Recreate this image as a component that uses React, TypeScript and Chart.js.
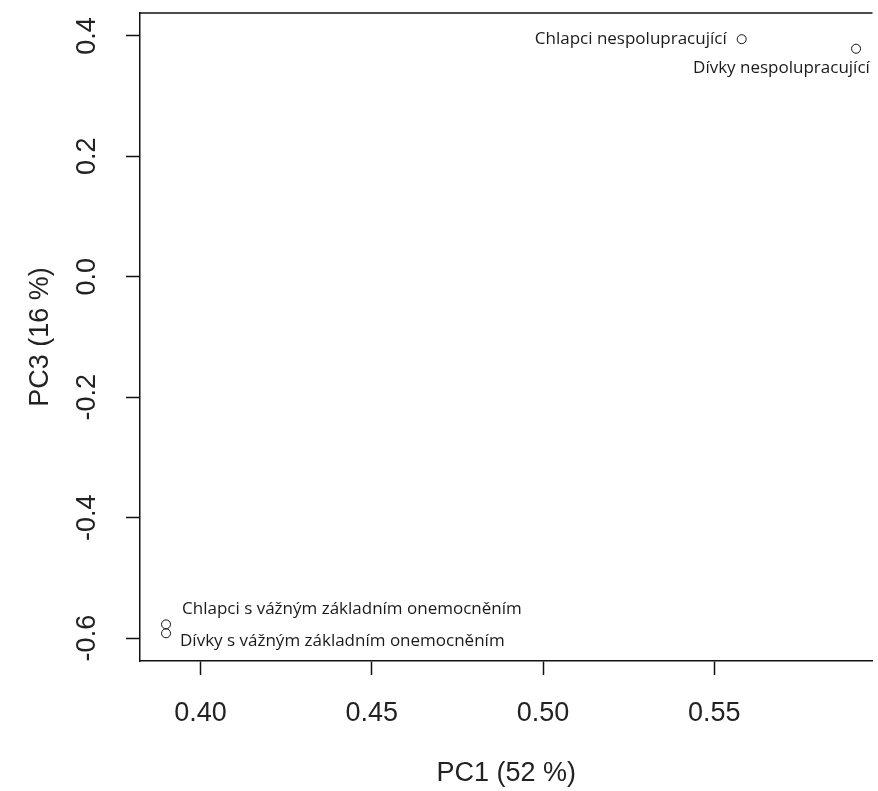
import React, { useEffect, useRef } from "react";
import { Chart, registerables } from "chart.js";

Chart.register(...registerables);

const pointNames = [
  "Chlapci nespolupracující",
  "Dívky nespolupracující",
  "Chlapci s vážným základním onemocněním",
  "Dívky s vážným základním onemocněním",
];
const pc1 = [0.558, 0.5914, 0.3899, 0.3899];
const pc3 = [0.3945, 0.3787, -0.5772, -0.592];
const xTicks = [0.4, 0.45, 0.5, 0.55];
const xTickLabels = ["0.40", "0.45", "0.50", "0.55"];
const yTicks = [-0.6, -0.4, -0.2, 0.0, 0.2, 0.4];
const yTickLabels = ["-0.6", "-0.4", "-0.2", "0.0", "0.2", "0.4"];
const xTitle = "PC1 (52 %)";
const yTitle = "PC3 (16 %)";

// label placement (style): alignment and pixel offset from the point
const labelPlacement = [
  { align: "right", dx: -15, dy: 0 },
  { align: "left", dx: -163, dy: 19 },
  { align: "left", dx: 16, dy: -15 },
  { align: "left", dx: 14, dy: 8 },
];

const AXIS_FONT = "'Liberation Sans', Arial, sans-serif";
const LABEL_FONT = "'Open Sans', 'Noto Sans', sans-serif";

const W = 878;
const H = 791;

const zeroPadding = (scale: any) => {
  scale.paddingTop = 0;
  scale.paddingBottom = 0;
  scale.paddingLeft = 0;
  scale.paddingRight = 0;
};

export default function App() {
  const ref = useRef<HTMLCanvasElement | null>(null);

  useEffect(() => {
    document.documentElement.style.overflow = "hidden";
    document.body.style.overflow = "hidden";
    const canvas = ref.current;
    if (!canvas) return;

    const topBorder = {
      id: "topBorder",
      afterDraw(chart: any) {
        const { ctx, chartArea } = chart;
        ctx.save();
        ctx.strokeStyle = "#111";
        ctx.lineWidth = 1.5;
        ctx.beginPath();
        ctx.moveTo(chartArea.left, chartArea.top);
        ctx.lineTo(chartArea.right, chartArea.top);
        ctx.stroke();
        ctx.restore();
      },
    };

    const pointLabels = {
      id: "pointLabels",
      afterDatasetsDraw(chart: any) {
        const { ctx } = chart;
        const meta = chart.getDatasetMeta(0);
        ctx.save();
        ctx.font = `17px ${LABEL_FONT}`;
        ctx.fillStyle = "#1a1a1a";
        ctx.textBaseline = "middle";
        meta.data.forEach((el: any, i: number) => {
          const p = labelPlacement[i];
          ctx.textAlign = p.align;
          ctx.fillText(pointNames[i], el.x + p.dx, el.y + p.dy);
        });
        ctx.restore();
      },
    };

    const chart = new Chart(canvas, {
      type: "scatter",
      data: {
        datasets: [
          {
            data: pc1.map((x, i) => ({ x, y: pc3[i] })),
            pointStyle: "circle",
            pointRadius: 4.5,
            pointHoverRadius: 4.5,
            borderColor: "#111",
            borderWidth: 1,
            backgroundColor: "rgba(0,0,0,0)",
          },
        ],
      },
      options: {
        animation: false,
        responsive: false,
        devicePixelRatio: 1,
        layout: { padding: { top: 13, right: 0, left: 0, bottom: 0 } },
        plugins: { legend: { display: false }, tooltip: { enabled: false } },
        scales: {
          x: {
            type: "linear",
            min: 0.3823,
            max: 0.5962,
            afterBuildTicks: (scale: any) => {
              scale.ticks = xTicks.map((v) => ({ value: v }));
            },
            afterFit: (scale: any) => {
              scale.height = 130;
              zeroPadding(scale);
            },
            ticks: {
              callback: (_v: any, i: number) => xTickLabels[i],
              font: { family: AXIS_FONT, size: 27 },
              color: "#222",
              padding: 22,
              maxRotation: 0,
              minRotation: 0,
            },
            grid: {
              display: true,
              drawOnChartArea: false,
              drawTicks: true,
              tickLength: 14,
              tickColor: "#111",
              tickWidth: 1.5,
            },
            border: { display: true, color: "#111", width: 1.5 },
            title: {
              display: true,
              text: xTitle,
              font: { family: AXIS_FONT, size: 27 },
              color: "#222",
              padding: { top: 0, bottom: 1 },
            },
          },
          y: {
            type: "linear",
            min: -0.638,
            max: 0.438,
            afterBuildTicks: (scale: any) => {
              scale.ticks = yTicks.map((v) => ({ value: v }));
            },
            afterFit: (scale: any) => {
              scale.width = 140;
              zeroPadding(scale);
            },
            ticks: {
              callback: (_v: any, i: number) => yTickLabels[i],
              font: { family: AXIS_FONT, size: 27 },
              color: "#222",
              padding: 15,
              minRotation: 90,
              maxRotation: 90,
              crossAlign: "center",
            },
            grid: {
              display: true,
              drawOnChartArea: false,
              drawTicks: true,
              tickLength: 14,
              tickColor: "#111",
              tickWidth: 1.5,
            },
            border: { display: true, color: "#111", width: 1.5 },
            title: {
              display: true,
              text: yTitle,
              font: { family: AXIS_FONT, size: 27 },
              color: "#222",
              padding: { top: 24, bottom: 0 },
            },
          },
        },
      },
      plugins: [topBorder, pointLabels],
    } as any);

    return () => chart.destroy();
  }, []);

  return (
    <canvas
      ref={ref}
      width={W}
      height={H}
      style={{
        display: "block",
        position: "absolute",
        left: 0,
        top: 0,
        width: W,
        height: H,
      }}
    />
  );
}
